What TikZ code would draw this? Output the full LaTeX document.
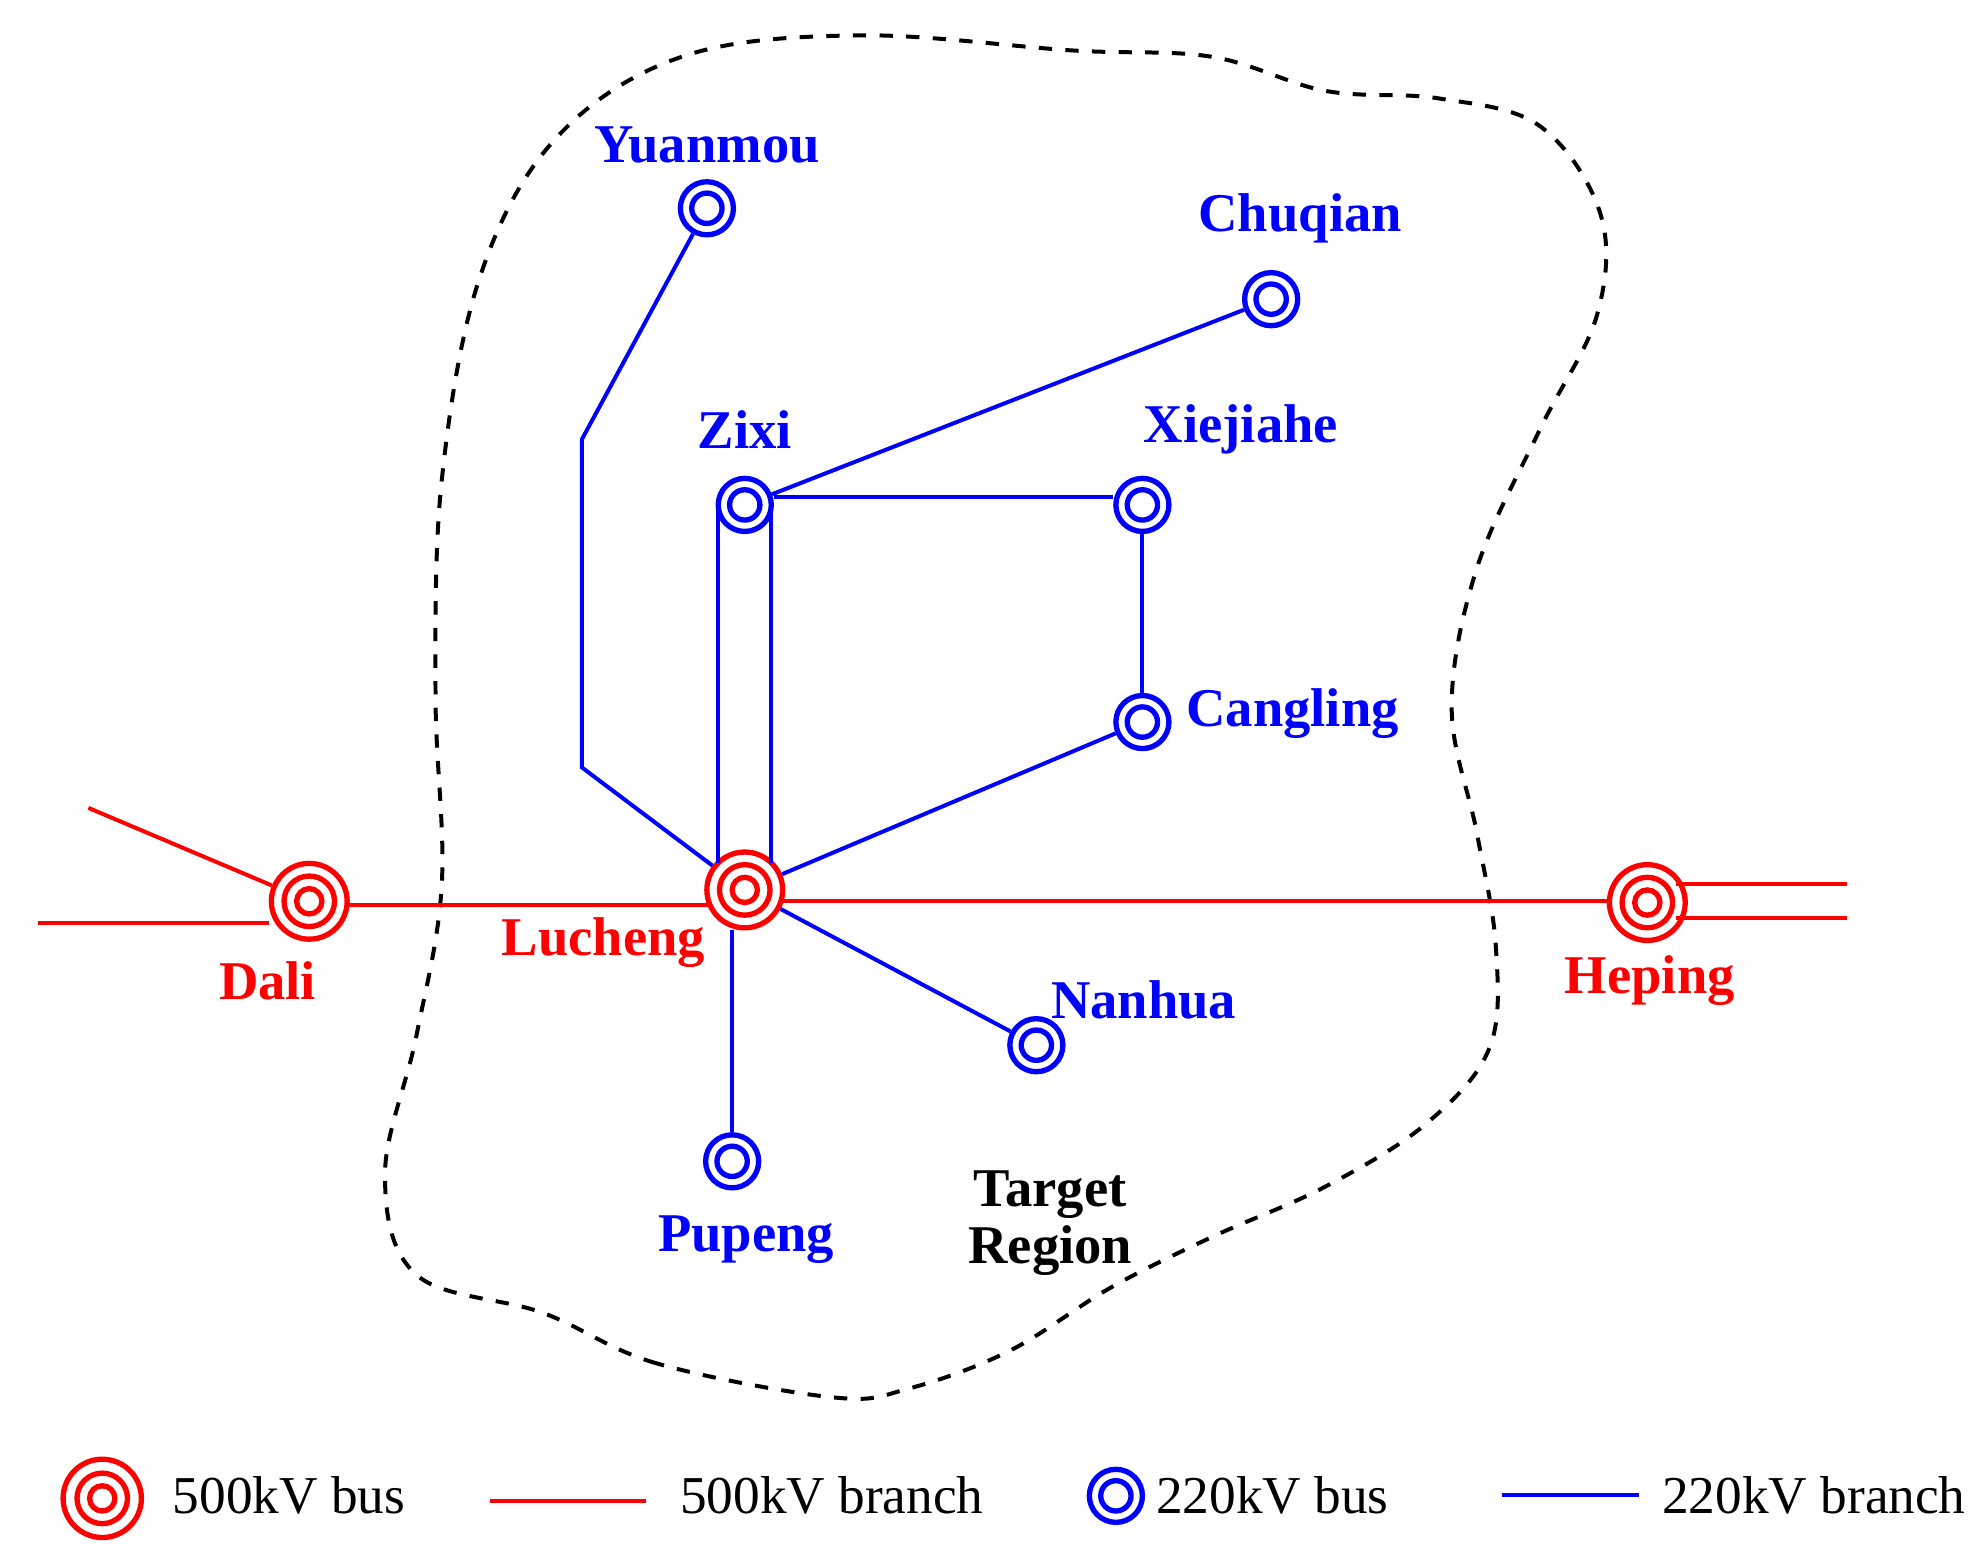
\documentclass[tikz,border=0pt]{standalone}
\usepackage{fontspec}
\setmainfont{Liberation Serif}
\begin{document}
\begin{tikzpicture}[x=0.01cm,y=-0.01cm,
 lbl/.style={font=\fontsize{12.3}{14}\selectfont\bfseries},
 rl/.style={lbl,text=red}, bl/.style={lbl,text=blue},
 leg/.style={font=\fontsize{12}{14}\selectfont},
 rb/.style={red,line width=0.9pt}, bb/.style={blue,line width=0.9pt},
 bus2/.style={circle,draw=blue,line width=1.2pt,minimum size=0.42cm,inner sep=0pt,
   path picture={\draw[blue,line width=1.2pt] (path picture bounding box.center) circle (0.12cm);}},
 bus5/.style={circle,draw=red,line width=1.2pt,minimum size=0.6cm,inner sep=0pt,
   path picture={\draw[red,line width=1.2pt] (path picture bounding box.center) circle (0.2cm) circle (0.1cm);}}]
\useasboundingbox (0,0) rectangle (1563,1231);
\draw[dashed,line width=0.9pt] plot[smooth cycle,tension=0.6] coordinates {(660,1107) (520,1080) (430,1040) (330,1010) (305,930) (330,820) (350,700) (345,550) (350,380) (380,220) (440,110) (540,45) (680,28) (850,40) (960,45) (1050,72) (1140,78) (1220,100) (1268,170) (1265,250) (1220,340) (1170,450) (1150,560) (1170,660) (1185,750) (1180,830) (1130,890) (1050,940) (960,980) (880,1020) (800,1070) (720,1100)};
\node[bus2] (yu) at (560,165) {};
\node[bus2] (ch) at (1007,237) {};
\node[bus2] (zx) at (590,400) {};
\node[bus2] (xj) at (905,400) {};
\node[bus2] (cl) at (905,572) {};
\node[bus2] (nh) at (821,828) {};
\node[bus2] (pp) at (580,920) {};
\node[bus5] (lc) at (590,705) {};
\node[bus5] (dl) at (245,714) {};
\node[bus5] (hp) at (1305,715) {};
\coordinate (y1) at (461,348); \coordinate (y2) at (461,608);
\coordinate (d1) at (70,640); \coordinate (d2) at (30,731);
\coordinate (h1) at (1463,700); \coordinate (h2) at (1463,727);
\coordinate (za) at (569,400); \coordinate (zb) at (611,400);
\coordinate (la1) at (569,684); \coordinate (lb1) at (611,684);
\coordinate (r1) at (275,717); \coordinate (r2) at (561,717);
\coordinate (r3) at (619,714); \coordinate (r4) at (1275,714);
\draw[bb] (yu) -- (y1) -- (y2) -- (lc);
\draw[bb] (zx) -- (ch);
\draw[bb] ([yshift=0.06cm]zx.east) -- ([yshift=0.06cm]xj.west);
\draw[bb] (xj) -- (cl);
\draw[bb] (za) -- (la1);
\draw[bb] (zb) -- (lb1);
\draw[bb] (lc) -- (cl);
\draw[bb] (lc) -- (nh);
\draw[bb] (lc.south -| pp) -- (pp);
\draw[rb] (r1) -- (r2);
\draw[rb] (r3) -- (r4);
\draw[rb] (d1) -- (dl); \draw[rb] (d2) -- (d2 -| dl.west);
\draw[rb] (hp.north east |- h1) -- (h1); \draw[rb] (hp.south east |- h2) -- (h2);
\node[bl] (tyu) at (560,115) {Yuanmou};
\node[bl] (tch) at (1030,173) {Chuqian};
\node[bl] (tzx) at (590,340) {Zixi};
\node[bl] (txj) at (983,340) {Xiejiahe};
\node[bl] (tcl) at (1024,565) {Cangling};
\node[bl] (tnh) at (906,792) {Nanhua};
\node[bl] (tpp) at (591,982) {Pupeng};
\node[rl] (tlc) at (478,747) {Lucheng};
\node[rl] (tdl) at (212,777) {Dali};
\node[rl] (thp) at (1307,777) {Heping};
\node[lbl,align=center] (tr) at (832,969) {Target\\[-1pt]Region};
% legend
\node[bus5,minimum size=0.62cm] (l1) at (81,1187) {};
\node[leg] (lt1) at (229,1185) {500kV bus};
\coordinate (la) at (388,1189); \coordinate (lb) at (512,1189);
\draw[rb] (la) -- (lb);
\node[leg] (lt2) at (659,1185) {500kV branch};
\node[bus2] (l3) at (884,1185) {};
\node[leg] (lt3) at (1008,1185) {220kV bus};
\coordinate (lc1) at (1190,1184); \coordinate (lc2) at (1298,1184);
\draw[bb] (lc1) -- (lc2);
\node[leg] (lt4) at (1437,1185) {220kV branch};
\end{tikzpicture}
\end{document}
